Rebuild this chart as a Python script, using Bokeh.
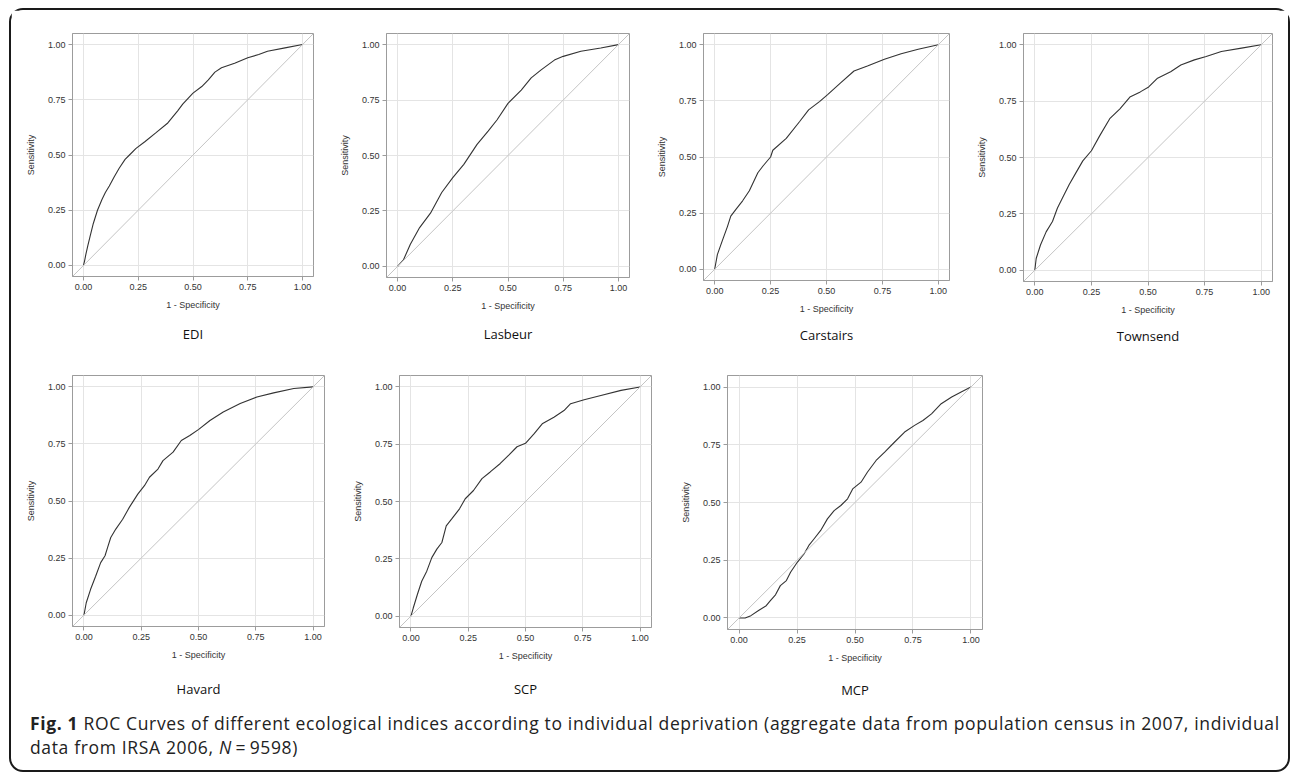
from bokeh.plotting import figure
from bokeh.layouts import row, column
from bokeh.models import Div, Slope, Title, Range1d, NumeralTickFormatter, FixedTicker
from bokeh.embed import file_html
from bokeh.resources import INLINE

# ---------------- data ----------------
panel_names = ["EDI", "Lasbeur", "Carstairs", "Townsend", "Havard", "SCP", "MCP"]

edi_x = [0, 0.005, 0.011, 0.02, 0.03, 0.045, 0.064, 0.085, 0.10, 0.118, 0.14, 0.163, 0.19, 0.21,
         0.24, 0.28, 0.33, 0.385, 0.43, 0.453, 0.5, 0.54, 0.57, 0.6, 0.63, 0.69, 0.75, 0.8, 0.84, 0.92, 1.0]
edi_y = [0, 0.02, 0.05, 0.09, 0.13, 0.19, 0.25, 0.30, 0.33, 0.36, 0.40, 0.44, 0.48, 0.50,
         0.53, 0.56, 0.60, 0.645, 0.70, 0.73, 0.78, 0.81, 0.84, 0.875, 0.895, 0.915, 0.94, 0.955, 0.97, 0.985, 1.0]

lasbeur_x = [0, 0.027, 0.058, 0.10, 0.149, 0.2, 0.25, 0.30, 0.36, 0.41, 0.45, 0.5, 0.56, 0.605, 0.65,
             0.71, 0.75, 0.83, 0.92, 1.0]
lasbeur_y = [0, 0.03, 0.10, 0.175, 0.24, 0.333, 0.40, 0.46, 0.55, 0.61, 0.66, 0.735, 0.795, 0.85, 0.886,
             0.93, 0.947, 0.97, 0.985, 1.0]

carstairs_x = [0, 0.012, 0.035, 0.057, 0.072, 0.095, 0.125, 0.155, 0.193, 0.216, 0.25, 0.26, 0.32, 0.38,
               0.42, 0.47, 0.505, 0.563, 0.623, 0.683, 0.759, 0.834, 0.91, 1.0]
carstairs_y = [0, 0.065, 0.13, 0.19, 0.237, 0.267, 0.305, 0.35, 0.43, 0.46, 0.5, 0.53, 0.583, 0.658,
               0.71, 0.748, 0.778, 0.83, 0.883, 0.905, 0.935, 0.96, 0.98, 1.0]

townsend_x = [0, 0.006, 0.025, 0.05, 0.078, 0.1, 0.122, 0.152, 0.182, 0.212, 0.25, 0.287, 0.331, 0.376,
              0.42, 0.466, 0.503, 0.54, 0.6, 0.645, 0.705, 0.757, 0.824, 0.913, 1.0]
townsend_y = [0, 0.052, 0.112, 0.17, 0.216, 0.276, 0.32, 0.38, 0.433, 0.485, 0.53, 0.597, 0.672, 0.716,
              0.768, 0.791, 0.813, 0.85, 0.88, 0.91, 0.933, 0.948, 0.97, 0.985, 1.0]

havard_x = [0, 0.01, 0.029, 0.051, 0.073, 0.092, 0.103, 0.117, 0.139, 0.169, 0.198, 0.235, 0.264, 0.286,
            0.323, 0.345, 0.389, 0.425, 0.462, 0.501, 0.55, 0.608, 0.682, 0.755, 0.828, 0.916, 1.0]
havard_y = [0, 0.054, 0.113, 0.17, 0.23, 0.26, 0.296, 0.34, 0.377, 0.42, 0.472, 0.53, 0.567, 0.604,
            0.64, 0.677, 0.714, 0.765, 0.787, 0.814, 0.853, 0.89, 0.927, 0.956, 0.974, 0.993, 1.0]

scp_x = [0, 0.01, 0.028, 0.047, 0.069, 0.091, 0.113, 0.135, 0.154, 0.178, 0.212, 0.237, 0.273, 0.31,
         0.346, 0.39, 0.427, 0.463, 0.5, 0.537, 0.573, 0.624, 0.668, 0.697, 0.756, 0.829, 0.917, 1.0]
scp_y = [0, 0.035, 0.094, 0.152, 0.196, 0.255, 0.292, 0.321, 0.394, 0.424, 0.468, 0.512, 0.548, 0.6,
         0.629, 0.666, 0.702, 0.739, 0.754, 0.795, 0.839, 0.868, 0.897, 0.927, 0.944, 0.963, 0.985, 1.0]

mcp_x = [0, 0.026, 0.051, 0.084, 0.117, 0.135, 0.157, 0.178, 0.204, 0.222, 0.251, 0.28, 0.301, 0.323,
         0.352, 0.381, 0.41, 0.439, 0.468, 0.49, 0.526, 0.554, 0.591, 0.628, 0.671, 0.714, 0.757, 0.793,
         0.83, 0.872, 0.917, 0.96, 1.0]
mcp_y = [0, 0.0, 0.01, 0.032, 0.053, 0.075, 0.1, 0.14, 0.162, 0.198, 0.241, 0.277, 0.314, 0.342,
         0.379, 0.429, 0.465, 0.487, 0.516, 0.559, 0.588, 0.632, 0.682, 0.718, 0.762, 0.805, 0.834, 0.855,
         0.884, 0.928, 0.957, 0.98, 1.0]

axis_ticks = [0, 0.25, 0.5, 0.75, 1.0]
x_title = "1 - Specificity"
y_title = "Sensitivity"

curves_x = [edi_x, lasbeur_x, carstairs_x, townsend_x, havard_x, scp_x, mcp_x]
curves_y = [edi_y, lasbeur_y, carstairs_y, townsend_y, havard_y, scp_y, mcp_y]

# ---------------- styling / geometry ----------------
FRAME_GRAY = "#9c9c9c"
GRID_GRAY = "#e4e4e4"
DIAG_GRAY = "#c4c4c4"
CURVE = "#333333"
TICK_FONT = "Liberation Sans"
LABEL_FONT = "Open Sans"

# (min_border_left, frame_w, min_border_right, min_border_top, frame_h, min_border_bottom, label_standoff)
geoms = [
    (61, 241, 13, 23, 243, 84, 21),
    (60, 243, 14, 20, 244, 86, 19),
    (60, 246, 14, 18, 247, 85, 15),
    (60, 249, 16, 16, 248, 86, 14),
    (61, 252, 15, 15, 251, 93, 31),
    (60, 252, 16, 14, 252, 93, 29),
    (60, 255, 10, 12, 254, 93, 26),
]


def make_panel(i):
    L, W, R, T, H, B, S = geoms[i]
    p = figure(frame_width=W, frame_height=H, min_border_left=L, min_border_right=R,
               min_border_top=T, min_border_bottom=B,
               x_range=Range1d(-0.05, 1.05), y_range=Range1d(-0.05, 1.05),
               output_backend="svg", toolbar_location=None, tools="")
    p.background_fill_color = "white"
    p.border_fill_color = "white"
    p.outline_line_color = FRAME_GRAY
    p.outline_line_width = 1

    for ax in (p.xaxis[0], p.yaxis[0]):
        ax.ticker = FixedTicker(ticks=axis_ticks)
        ax.formatter = NumeralTickFormatter(format="0.00")
        ax.axis_line_color = FRAME_GRAY
        ax.major_tick_line_color = FRAME_GRAY
        ax.major_tick_out = 4
        ax.major_tick_in = 0
        ax.minor_tick_line_color = None
        ax.major_label_text_font = TICK_FONT
        ax.major_label_text_font_size = "9px"
        ax.major_label_text_color = "#333333"
        ax.axis_label_text_font = TICK_FONT
        ax.axis_label_text_font_size = "9px"
        ax.axis_label_text_font_style = "normal"
        ax.axis_label_text_color = "#333333"
    p.xaxis.axis_label = x_title
    p.yaxis.axis_label = y_title
    p.xaxis.major_label_standoff = 3
    p.yaxis.major_label_standoff = 3
    p.xaxis.axis_label_standoff = 7
    p.yaxis.axis_label_standoff = 9

    p.xgrid.ticker = FixedTicker(ticks=axis_ticks)
    p.ygrid.ticker = FixedTicker(ticks=axis_ticks)
    p.grid.grid_line_color = GRID_GRAY
    p.grid.grid_line_width = 1

    p.add_layout(Slope(gradient=1, y_intercept=0, line_color=DIAG_GRAY, line_width=1))
    p.line(curves_x[i], curves_y[i], line_color=CURVE, line_width=1.1)

    p.add_layout(Title(text=panel_names[i], align="center", text_font=LABEL_FONT,
                       text_font_size="13px", text_font_style="normal",
                       text_color="#111111", standoff=S), "below")
    return p


panels = [make_panel(i) for i in range(7)]

caption_html = (
    '<div style="position: relative; top: -13px; margin: 0; font-family: \'Open Sans\'; font-size: 17.5px;'
    ' letter-spacing: 0.65px; line-height: 24px; color: #222; padding: 0 0 0 14px; white-space: nowrap;">'
    '<b>Fig. 1</b> ROC Curves of different ecological indices according to individual deprivation '
    '(aggregate data from population census in 2007, individual<br>'
    'data from IRSA 2006, <i>N</i>&thinsp;=&thinsp;9598)</div>'
)
caption = Div(text=caption_html, width=1277, height=50)

row1 = row(panels[0], panels[1], panels[2], panels[3], spacing=0)
row2 = row(panels[4], panels[5], panels[6], spacing=0)

page = column(row1, row2, caption, spacing=0, width=1281, height=764, sizing_mode="fixed",
              styles={"border": "2px solid #1a1a1a", "border-radius": "14px",
                      "background-color": "white", "margin": "8px 0 0 9px"})

open("out.html", "w").write(file_html(page, INLINE, title="ROC curves"))
